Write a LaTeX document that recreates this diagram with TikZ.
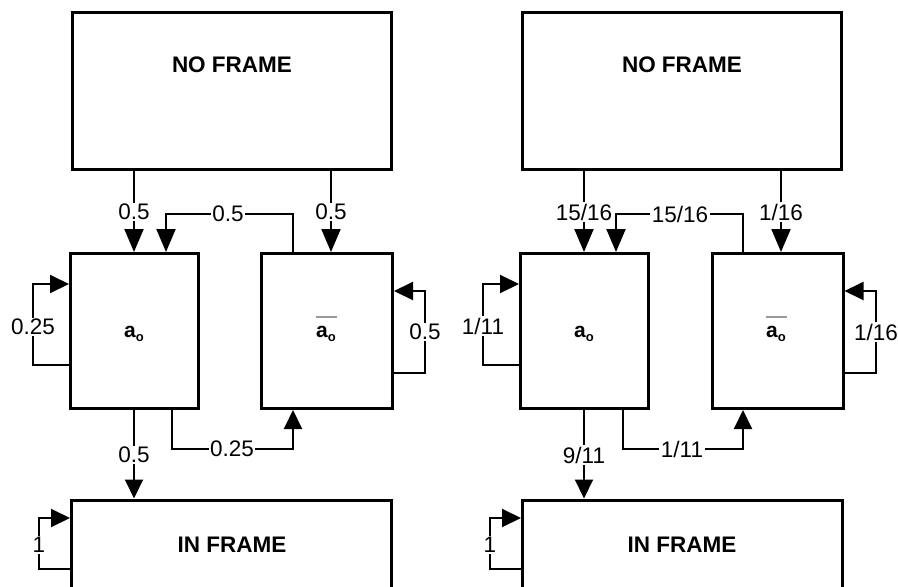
\documentclass[tikz,border=0pt]{standalone}
\usepackage{fontspec}
\setmainfont{Liberation Sans}
\usetikzlibrary{arrows.meta}
\tikzset{
  box/.style={draw, line width=3pt, inner sep=0pt, fill=none},
  conn/.style={line width=2pt},
  arr/.style={-{Triangle[length=19pt,width=18pt]}},
  arrl/.style={-{Triangle[length=23pt,width=19pt]}},
  lbl/.style={fill=white, inner sep=1.5pt, font=\fontsize{22.5}{23}\selectfont},
  ttl/.style={inner sep=0pt, font=\fontsize{22.5}{23}\selectfont\bfseries},
  sym/.style={inner sep=0pt, font=\fontsize{21}{21}\selectfont\bfseries},
  bar/.style={draw=gray!80, line width=1.6pt}
}
\newcommand{\aosym}{a\raisebox{-0.3ex}{\fontsize{13}{13}\selectfont o}}
\begin{document}
\begin{tikzpicture}[x=1pt,y=-1pt]
\useasboundingbox (0,0) rectangle (898,587);
\clip (0,0) rectangle (898,587);
\fill[white] (0,0) rectangle (898,587);

% ================= LEFT =================
\node[box, minimum width=319pt, minimum height=157pt] (Lnf) at (232,90.5) {};
\node[box, minimum width=128pt, minimum height=155pt] (Lao) at (134.5,331) {};
\node[box, minimum width=131pt, minimum height=155pt] (Lab) at (327,331) {};
\node[box, minimum width=320pt, minimum height=92pt] (Lin) at (231.5,546) {};
\node[ttl] (Lnft) at (232,65) {NO FRAME};
\node[ttl] (Lint) at (232,545) {IN FRAME};
\node[sym] (Laot) at (134,334) {\aosym};
\node[sym] (Labt) at (326,334) {\aosym};
\draw[bar] (316,317) -- (337,317);

\draw[conn,arrl] (134,0 |- Lnf.south) -- (134,0 |- Lao.north);
\draw[conn,arrl] (293,0 |- Lab.north) |- (166,214) -- (166,0 |- Lao.north);
\draw[conn,arrl] (331,0 |- Lnf.south) -- (331,0 |- Lab.north);
\draw[conn,arr] (0,365 -| Lao.west) -| (33,284) -- (0,284 -| Lao.west);
\draw[conn,arr] (0,373 -| Lab.east) -| (425,291) -- (0,291 -| Lab.east);
\draw[conn,arr] (134,0 |- Lao.south) -- (134,0 |- Lin.north);
\draw[conn,arr] (172,0 |- Lao.south) |- (293,449) -- (293,0 |- Lab.south);
\draw[conn,arr] (0,569 -| Lin.west) -| (39,518) -- (0,518 -| Lin.west);

\node[lbl] (Ll1) at (134,212) {0.5};
\node[lbl] (Ll2) at (228,214) {0.5};
\node[lbl] (Ll3) at (331,212) {0.5};
\node[lbl] (Ll4) at (33,327) {0.25};
\node[lbl] (Ll5) at (425,332) {0.5};
\node[lbl] (Ll6) at (134,455) {0.5};
\node[lbl] (Ll7) at (232,449) {0.25};
\node[lbl] (Ll8) at (39,545) {1};

% ================= RIGHT =================
\node[box, minimum width=319pt, minimum height=157pt] (Rnf) at (682,90.5) {};
\node[box, minimum width=128pt, minimum height=155pt] (Rao) at (584.5,331) {};
\node[box, minimum width=131pt, minimum height=155pt] (Rab) at (777.5,331) {};
\node[box, minimum width=320pt, minimum height=92pt] (Rin) at (682.5,546) {};
\node[ttl] (Rnft) at (682,65) {NO FRAME};
\node[ttl] (Rint) at (682,545) {IN FRAME};
\node[sym] (Raot) at (584,334) {\aosym};
\node[sym] (Rabt) at (776,334) {\aosym};
\draw[bar] (766,317) -- (787,317);

\draw[conn,arrl] (584,0 |- Rnf.south) -- (584,0 |- Rao.north);
\draw[conn,arrl] (743,0 |- Rab.north) |- (616,214) -- (616,0 |- Rao.north);
\draw[conn,arrl] (781,0 |- Rnf.south) -- (781,0 |- Rab.north);
\draw[conn,arr] (0,365 -| Rao.west) -| (483,284) -- (0,284 -| Rao.west);
\draw[conn,arr] (0,373 -| Rab.east) -| (876,291) -- (0,291 -| Rab.east);
\draw[conn,arr] (584,0 |- Rao.south) -- (584,0 |- Rin.north);
\draw[conn,arr] (623,0 |- Rao.south) |- (743,449) -- (743,0 |- Rab.south);
\draw[conn,arr] (0,569 -| Rin.west) -| (490,518) -- (0,518 -| Rin.west);

\node[lbl] (Rl1) at (584,212) {15/16};
\node[lbl] (Rl2) at (680,214) {15/16};
\node[lbl] (Rl3) at (781,212) {1/16};
\node[lbl] (Rl4) at (483,326) {1/11};
\node[lbl] (Rl5) at (876,332) {1/16};
\node[lbl] (Rl6) at (584,455) {9/11};
\node[lbl] (Rl7) at (682,449) {1/11};
\node[lbl] (Rl8) at (490,545) {1};
\end{tikzpicture}
\end{document}
